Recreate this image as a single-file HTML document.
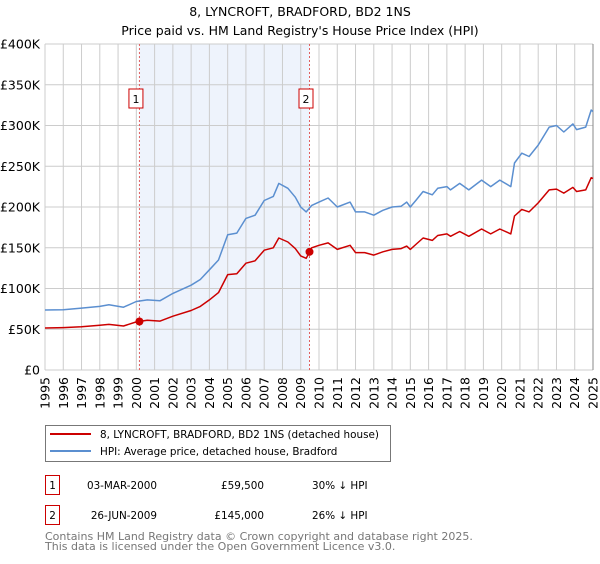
<!DOCTYPE html>
<html><head><meta charset="utf-8">
<style>
body{margin:0;background:#fff;width:600px;height:560px;overflow:hidden;font-family:"DejaVu Sans","Liberation Sans",sans-serif;}
svg text{font-family:"DejaVu Sans","Liberation Sans",sans-serif;}
</style></head><body>
<svg width="600" height="560" xmlns="http://www.w3.org/2000/svg">
<g id="root"></g>
</svg>
<script>
const hpiYears=[1995,1996,1997,1998,1998.5,1999.3,2000,2000.6,2001.3,2002,2003,2003.5,2004,2004.5,2005,2005.5,2006,2006.5,2007,2007.5,2007.8,2008.3,2008.7,2009,2009.3,2009.6,2010,2010.5,2011,2011.7,2012,2012.5,2013,2013.5,2014,2014.5,2014.8,2015,2015.3,2015.7,2016.2,2016.5,2017,2017.2,2017.7,2018.2,2018.9,2019.4,2019.9,2020.5,2020.7,2021.1,2021.5,2022,2022.6,2023,2023.4,2023.9,2024.1,2024.6,2024.9,2025];
const hpiValues=[73.6,74,76,78,80,77,84,86,85,94,104,111,123,135,166,168,186,190,208,213,229,223,212,200,194,202,206,211,200,206,194,194,190,196,200,201,206,200,208,219,215,223,225,221,229,221,233,225,233,225,254,266,262,276,298,300,292,302,295,298,319,317];
const ppValues=[51.5,52,53,55,56,54,59,61,60,66,73,78,86,95,117,118,131,134,147,150,162,157,149,140,137,150,153,156,148,153,144,144,141,145,148,149,152,148,154,162,159,165,167,164,170,164,173,167,173,167,189,197,194,205,221,222,217,224,219,221,236,235];
const saleYears=[2000.17,2009.48];
const salePrices=[59.5,145];
const saleLabels=["1","2"];
const yTicks=[0,50,100,150,200,250,300,350,400];
const yTickLabels=["£0","£50K","£100K","£150K","£200K","£250K","£300K","£350K","£400K"];
const xTicks=[1995,1996,1997,1998,1999,2000,2001,2002,2003,2004,2005,2006,2007,2008,2009,2010,2011,2012,2013,2014,2015,2016,2017,2018,2019,2020,2021,2022,2023,2024,2025];

const X0=45,X1=593,Y0=370,Y1=44;
const xs=y=>X0+(y-1995)/30*(X1-X0);
const ys=v=>Y0-v/400*(Y0-Y1);
const NS="http://www.w3.org/2000/svg";
const root=document.getElementById('root');
function mk(tag,attrs,parent){const e=document.createElementNS(NS,tag);for(const k in attrs)e.setAttribute(k,attrs[k]);(parent||root).appendChild(e);return e;}

let t=mk('text',{x:300,y:16,'text-anchor':'middle','font-size':'12.5',fill:'#000'});t.textContent="8, LYNCROFT, BRADFORD, BD2 1NS";


t=mk('text',{x:300,y:35,'text-anchor':'middle','font-size':'12.5',fill:'#000'});t.textContent="Price paid vs. HM Land Registry's House Price Index (HPI)";



let sh=mk('rect',{x:xs(saleYears[0]),y:Y1,width:xs(saleYears[1])-xs(saleYears[0]),height:Y0-Y1,fill:'#eef3fc'});



xTicks.forEach(yr=>{
  const l=mk('line',{x1:xs(yr),x2:xs(yr),y1:Y1,y2:Y0,stroke:'#cccccc','stroke-width':1});
  
  
  const tx=mk('text',{transform:`translate(${xs(yr)+4.5},377) rotate(-90)`,'text-anchor':'end','font-size':'12.5',fill:'#000'});
  tx.textContent=yr;
  
  
});
yTicks.forEach((v,i)=>{
  const l=mk('line',{x1:X0,x2:X1,y1:ys(v),y2:ys(v),stroke:'#cccccc','stroke-width':1});
  
  
  const tx=mk('text',{x:40,y:ys(v)+4.5,'text-anchor':'end','font-size':'12.5',fill:'#000'});
  tx.textContent=yTickLabels[i];
  
  
});
let ax=mk('line',{x1:X1,x2:X1,y1:Y1,y2:Y0,stroke:'#888','stroke-width':1});



saleYears.forEach((yr,i)=>{
  const l=mk('line',{x1:xs(yr),x2:xs(yr),y1:Y1,y2:Y0,stroke:'#e06060','stroke-width':1,'stroke-dasharray':'2,2'});
  
  
  const b=mk('rect',{x:xs(yr)-10.5,y:89,width:14,height:19,fill:'#fff',stroke:'#cc0000','stroke-width':1});
  
  
  const tx=mk('text',{x:xs(yr)-3.5,y:103,'text-anchor':'middle','font-size':'11',fill:'#000'});
  tx.textContent=saleLabels[i];
  
  
});

const pts=(vals)=>hpiYears.map((y,i)=>xs(y).toFixed(1)+','+ys(vals[i]).toFixed(1)).join(' ');
let hl=mk('polyline',{points:pts(hpiValues),fill:'none',stroke:'#5b8fd0','stroke-width':1.5,'stroke-linejoin':'round'});


let pl=mk('polyline',{points:pts(ppValues),fill:'none',stroke:'#cc0000','stroke-width':1.5,'stroke-linejoin':'round'});


saleYears.forEach((yr,i)=>{
  const c=mk('circle',{cx:xs(yr),cy:ys(salePrices[i]),r:4,fill:'#cc0000'});
  
  
});

// legend
let lg=mk('rect',{x:45.5,y:425.5,width:345,height:36,fill:'#fff',stroke:'#777','stroke-width':1});


let l1=mk('line',{x1:50,x2:91,y1:434,y2:434,stroke:'#cc0000','stroke-width':2});


t=mk('text',{x:100,y:438,'font-size':'10.4',fill:'#000'});t.textContent="8, LYNCROFT, BRADFORD, BD2 1NS (detached house)";


let l2=mk('line',{x1:50,x2:91,y1:451,y2:451,stroke:'#5b8fd0','stroke-width':2});


t=mk('text',{x:100,y:455,'font-size':'10.4',fill:'#000'});t.textContent="HPI: Average price, detached house, Bradford";



// table
const rowsDate=["03-MAR-2000","26-JUN-2009"];
const rowsPrice=["£59,500","£145,000"];
const rowsHpi=["30% ↓ HPI","26% ↓ HPI"];
[0,1].forEach(i=>{
  const y0=475+i*30;
  const b=mk('rect',{x:45.5,y:y0+0.5,width:14,height:19,fill:'#fff',stroke:'#cc0000','stroke-width':1});
  
  
  let tx=mk('text',{x:52.5,y:y0+14,'text-anchor':'middle','font-size':'10.4',fill:'#000'});tx.textContent=saleLabels[i];
  
  
  tx=mk('text',{x:157,y:y0+14,'text-anchor':'end','font-size':'10.4',fill:'#000'});tx.textContent=rowsDate[i];
  
  
  tx=mk('text',{x:264,y:y0+14,'text-anchor':'end','font-size':'10.4',fill:'#000'});tx.textContent=rowsPrice[i];
  
  
  tx=mk('text',{x:312,y:y0+14,'font-size':'10.4',fill:'#000'});tx.textContent=rowsHpi[i];
  
  
});
t=mk('text',{x:45,y:540,'font-size':'11',fill:'#777'});t.textContent="Contains HM Land Registry data © Crown copyright and database right 2025.";


t=mk('text',{x:45,y:550,'font-size':'11',fill:'#777'});t.textContent="This data is licensed under the Open Government Licence v3.0.";


</script>
</body></html>
